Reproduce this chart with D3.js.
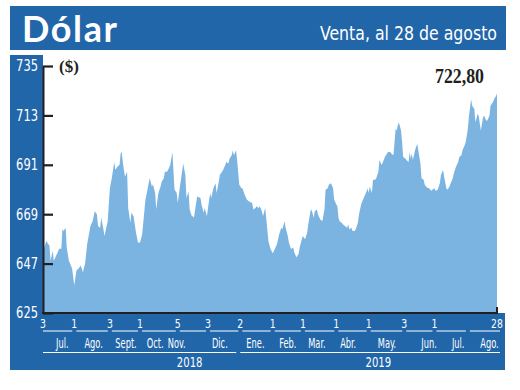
<!DOCTYPE html>
<html><head><meta charset="utf-8">
<script src="https://cdn.jsdelivr.net/npm/d3@7"></script>
<style>body{margin:0;background:#fff}</style>
</head><body><svg id="c" width="520" height="390"></svg>
<script>
const title = "Dólar";
const subtitle = "Venta, al 28 de agosto";
const unitLabel = "($)";
const lastLabel = "722,80";
const dates = [
"2018-07-03","2018-07-06","2018-07-09","2018-07-10","2018-07-12","2018-07-13","2018-07-16","2018-07-18","2018-07-20","2018-07-21","2018-07-22","2018-07-24","2018-07-25","2018-07-27","2018-07-30",
"2018-08-01","2018-08-03","2018-08-05","2018-08-07","2018-08-09","2018-08-11","2018-08-13","2018-08-16","2018-08-18","2018-08-20","2018-08-22","2018-08-23","2018-08-25","2018-08-26","2018-08-28","2018-08-29",
"2018-09-01","2018-09-03","2018-09-05","2018-09-07","2018-09-08","2018-09-10","2018-09-12","2018-09-13","2018-09-14","2018-09-15","2018-09-17","2018-09-19","2018-09-20","2018-09-22","2018-09-23","2018-09-25","2018-09-27","2018-09-29",
"2018-10-01","2018-10-03","2018-10-06","2018-10-07","2018-10-09","2018-10-10","2018-10-12","2018-10-13","2018-10-15","2018-10-16","2018-10-18","2018-10-20","2018-10-21","2018-10-23","2018-10-24","2018-10-26","2018-10-27","2018-10-29","2018-10-30","2018-10-31",
"2018-11-01","2018-11-02","2018-11-04","2018-11-05","2018-11-07","2018-11-09","2018-11-10","2018-11-12","2018-11-13","2018-11-15","2018-11-16","2018-11-18","2018-11-19","2018-11-20","2018-11-22","2018-11-23","2018-11-26","2018-11-27","2018-11-29","2018-11-30",
"2018-12-02","2018-12-03","2018-12-05","2018-12-06","2018-12-08","2018-12-10","2018-12-11","2018-12-13","2018-12-14","2018-12-16","2018-12-17","2018-12-19","2018-12-20","2018-12-22","2018-12-23","2018-12-25","2018-12-26","2018-12-27","2018-12-29","2018-12-30",
"2019-01-01","2019-01-03","2019-01-04","2019-01-06","2019-01-08","2019-01-10","2019-01-13","2019-01-14","2019-01-16","2019-01-17","2019-01-19","2019-01-20","2019-01-22","2019-01-23","2019-01-25","2019-01-26","2019-01-28","2019-01-30",
"2019-02-01","2019-02-03","2019-02-05","2019-02-07","2019-02-09","2019-02-10","2019-02-12","2019-02-13","2019-02-15","2019-02-16","2019-02-18","2019-02-20","2019-02-21","2019-02-23","2019-02-25","2019-02-26","2019-02-28",
"2019-03-01","2019-03-03","2019-03-05","2019-03-06","2019-03-08","2019-03-09","2019-03-11","2019-03-12","2019-03-14","2019-03-15","2019-03-17","2019-03-19","2019-03-21","2019-03-22","2019-03-24","2019-03-25","2019-03-27","2019-03-29","2019-03-30",
"2019-04-01","2019-04-02","2019-04-03","2019-04-04","2019-04-06","2019-04-07","2019-04-09","2019-04-11","2019-04-12","2019-04-13","2019-04-15","2019-04-16","2019-04-18","2019-04-19","2019-04-21","2019-04-22","2019-04-24","2019-04-25","2019-04-27","2019-04-29","2019-04-30",
"2019-05-01","2019-05-02","2019-05-04","2019-05-05","2019-05-07","2019-05-08","2019-05-10","2019-05-11","2019-05-13","2019-05-15","2019-05-16","2019-05-18","2019-05-19","2019-05-21","2019-05-22","2019-05-24","2019-05-25","2019-05-26","2019-05-27","2019-05-28","2019-05-29","2019-05-31",
"2019-06-01","2019-06-02","2019-06-04","2019-06-05","2019-06-07","2019-06-08","2019-06-09","2019-06-10","2019-06-11","2019-06-13","2019-06-15","2019-06-16","2019-06-18","2019-06-19","2019-06-21","2019-06-22","2019-06-24","2019-06-26","2019-06-28","2019-06-29",
"2019-07-01","2019-07-02","2019-07-04","2019-07-06","2019-07-07","2019-07-09","2019-07-10","2019-07-12","2019-07-13","2019-07-15","2019-07-16","2019-07-18","2019-07-19","2019-07-21","2019-07-23","2019-07-24","2019-07-26","2019-07-27","2019-07-29","2019-07-30",
"2019-08-01","2019-08-02","2019-08-04","2019-08-05","2019-08-07","2019-08-08","2019-08-10","2019-08-11","2019-08-13","2019-08-15","2019-08-16","2019-08-18","2019-08-19","2019-08-21","2019-08-22","2019-08-24","2019-08-26","2019-08-27","2019-08-28"
];
const values = [
652.0,657.1,654.9,648.3,652.7,648.3,651.4,653.6,653.6,662.4,661.5,663.0,654.2,648.3,644.8,
637.3,643.9,644.8,646.1,643.2,647.0,655.8,663.7,665.9,670.3,669.0,663.7,663.0,667.4,662.4,659.3,
665.9,680.6,685.7,692.3,688.8,690.1,691.0,696.0,696.7,692.3,685.7,687.9,671.8,665.2,669.6,668.1,661.5,656.4,
656.4,660.2,675.6,677.8,682.8,685.0,681.3,682.2,678.4,671.2,678.4,681.3,683.5,685.0,687.9,687.9,688.7,690.9,693.8,696.7,
687.9,679.9,678.4,674.0,681.3,687.9,691.6,686.5,676.2,679.1,671.1,668.1,668.1,667.4,674.0,676.9,676.2,673.3,669.6,671.8,
668.1,671.8,678.4,676.2,680.6,682.8,678.4,683.5,686.5,687.9,688.7,690.9,692.3,691.6,693.8,695.3,697.5,695.3,697.5,693.1,
682.1,680.6,680.6,677.7,675.5,674.7,674.0,671.1,671.8,672.5,671.8,672.5,670.3,668.1,671.8,667.4,657.1,653.5,
651.6,653.5,655.7,660.1,663.0,662.3,665.9,663.0,659.3,656.4,653.5,654.2,652.0,649.8,651.3,654.2,657.9,
659.3,657.9,660.8,664.5,670.3,671.1,667.4,670.3,671.1,668.9,666.7,665.9,671.1,679.9,680.6,682.1,682.8,680.6,675.5,
673.3,672.5,667.4,665.9,665.2,664.5,663.7,663.0,664.5,662.3,663.0,661.5,661.5,662.3,665.2,668.9,673.3,674.7,676.9,679.1,680.6,
678.4,681.3,678.4,684.3,684.3,685.0,687.9,693.1,690.9,693.1,694.5,696.0,696.7,696.7,696.0,695.3,701.1,707.0,706.3,708.5,709.9,706.3,
701.1,694.5,693.8,693.1,692.3,696.7,693.8,696.0,693.1,697.5,700.4,697.5,691.6,685.0,684.3,682.1,680.9,680.6,679.4,679.9,
680.6,679.4,679.9,682.8,686.5,688.7,685.7,680.6,679.9,681.3,682.8,685.0,687.2,690.1,692.3,694.5,695.3,697.5,699.7,701.1,
707.0,712.9,720.2,717.3,715.8,709.9,713.6,712.9,706.3,712.1,712.9,710.7,710.7,712.9,717.3,718.7,720.9,721.5,722.8
];
const yTicks = [625,647,669,691,713,735];
const xTickDates = ["2018-07-03","2018-08-01","2018-09-03","2018-10-01","2018-11-05","2018-12-03","2019-01-02","2019-02-01","2019-03-01","2019-04-01","2019-05-01","2019-06-03","2019-07-01","2019-08-01","2019-08-28"];
const xTickLabels = ["3","1","3","1","5","3","2","1","1","1","1","3","1","","28"];
const monthNames = ["Jul.","Ago.","Sept.","Oct.","Nov.","Dic.","Ene.","Feb.","Mar.","Abr.","May.","Jun.","Jul.","Ago."];
const monthLabelDates = ["2018-07-21","2018-08-19","2018-09-18","2018-10-15","2018-11-04","2018-12-14","2019-01-16","2019-02-15","2019-03-14","2019-04-12","2019-05-18","2019-06-26","2019-07-23","2019-08-21"];
const years = ["2018","2019"];
const yearLabelDates = ["2018-11-16","2019-05-10"];
const yearStarts = ["2018-07-03","2019-01-01"];
const yearEnds = ["2019-01-01","2019-08-28"];

const BLUE = "#2266aa", AREA = "#7cb4e1", INK = "#231f20";
const COND = "'DejaVu Sans Condensed','DejaVu Sans',sans-serif";
const parse = d3.timeParse("%Y-%m-%d");
const data = dates.map((d, i) => ({date: parse(d), value: values[i]}));
const svg = d3.select("#c");

function condense(sel, f) {
  sel.each(function () {
    const w = this.getComputedTextLength();
    d3.select(this).attr("textLength", w * f).attr("lengthAdjust", "spacingAndGlyphs");
  });
}

const x = d3.scaleTime().domain([parse(dates[0]), parse(dates[dates.length - 1])]).range([43, 497]);
const y = d3.scaleLinear().domain([625, 735]).range([313, 66]);

// header band
svg.append("rect").attr("x", 10).attr("y", 6).attr("width", 496).attr("height", 44).attr("fill", BLUE);
svg.append("text").attr("x", 22).attr("y", 42).text(title)
  .attr("fill", "#fff").attr("font-family", "Lato, 'Open Sans', sans-serif").attr("font-weight", 700)
  .attr("font-size", 36).attr("textLength", 95).attr("lengthAdjust", "spacing");
const sub = svg.append("text").attr("x", 497).attr("y", 40).attr("text-anchor", "end").text(subtitle)
  .attr("fill", "#fff").attr("font-family", COND).attr("font-size", 20);
condense(sub, 177 / sub.node().getComputedTextLength());

// left and bottom panels
svg.append("rect").attr("x", 10).attr("y", 55).attr("width", 33).attr("height", 315).attr("fill", BLUE);
svg.append("rect").attr("x", 10).attr("y", 313).attr("width", 495).attr("height", 57).attr("fill", BLUE);

// area
const area = d3.area().x(d => x(d.date)).y0(y(625)).y1(d => y(d.value));
svg.append("path").datum(data).attr("d", area).attr("fill", AREA);

// y axis
const gy = svg.append("g").attr("transform", "translate(43,0)")
  .call(d3.axisRight(y).tickValues(yTicks).tickSize(10).tickSizeOuter(0).tickFormat(""));
gy.select(".domain").attr("stroke", INK).attr("stroke-width", 2);
gy.selectAll(".tick line").attr("stroke", INK).attr("stroke-width", 2.2);
const yl = svg.append("g").selectAll("text").data(yTicks).join("text")
  .attr("x", 38).attr("y", d => y(d)).attr("dy", "0.36em").attr("text-anchor", "end")
  .attr("fill", "#fff").attr("font-family", COND).attr("font-size", 15).text(d => d);
condense(yl, 0.85);

// bottom axis line
svg.append("line").attr("x1", 42).attr("x2", x.range()[1] + 1).attr("y1", y(625)).attr("y2", y(625))
  .attr("stroke", INK).attr("stroke-width", 2);
svg.append("line").attr("x1", x.range()[1]).attr("x2", x.range()[1]).attr("y1", y(625) - 6).attr("y2", y(625))
  .attr("stroke", INK).attr("stroke-width", 2);

// x tick labels
const xl = svg.append("g").selectAll("text").data(xTickDates).join("text")
  .attr("x", d => x(parse(d))).attr("y", 328).attr("text-anchor", "middle")
  .attr("fill", "#fff").attr("font-family", COND).attr("font-size", 13)
  .text((d, i) => xTickLabels[i]);
condense(xl.filter((d, i) => xTickLabels[i] !== ""), 0.8);

// month separator lines
const tickX = xTickDates.map(d => x(parse(d)));
svg.append("g").selectAll("line").data(d3.pairs(tickX)).join("line")
  .attr("x1", (p, i) => i === 0 ? p[0] : p[0] + 2).attr("x2", (p, i, a) => i === a.length - 1 ? p[1] + 3 : p[1] - 2)
  .attr("y1", 331).attr("y2", 331).attr("stroke", "#fff").attr("stroke-width", 1);

// month labels
const ml = svg.append("g").selectAll("text").data(monthNames).join("text")
  .attr("x", (d, i) => x(parse(monthLabelDates[i]))).attr("y", 348).attr("text-anchor", "middle")
  .attr("fill", "#fff").attr("font-family", COND).attr("font-size", 13.5).text(d => d);
condense(ml, 0.68);

// year lines and labels
svg.append("g").selectAll("line").data(years).join("line")
  .attr("x1", (d, i) => x(parse(yearStarts[i])) + (i === 0 ? 0 : 1))
  .attr("x2", (d, i) => x(parse(yearEnds[i])) + (i === 0 ? -3 : 3))
  .attr("y1", 352.5).attr("y2", 352.5).attr("stroke", "#fff").attr("stroke-width", 1);
const yrl = svg.append("g").selectAll("text").data(years).join("text")
  .attr("x", (d, i) => x(parse(yearLabelDates[i]))).attr("y", 367).attr("text-anchor", "middle")
  .attr("fill", "#fff").attr("font-family", COND).attr("font-size", 14).text(d => d);
condense(yrl, 0.8);

// annotations
svg.append("text").attr("x", 59).attr("y", 72).text(unitLabel)
  .attr("fill", INK).attr("font-family", "'Liberation Serif', serif").attr("font-weight", 700).attr("font-size", 17);
svg.append("text").attr("x", 484).attr("y", 83).attr("text-anchor", "end").text(lastLabel)
  .attr("fill", INK).attr("font-family", "'Liberation Serif', serif").attr("font-weight", 700).attr("font-size", 21)
  .attr("textLength", 49).attr("lengthAdjust", "spacingAndGlyphs");
</script>
</body></html>
